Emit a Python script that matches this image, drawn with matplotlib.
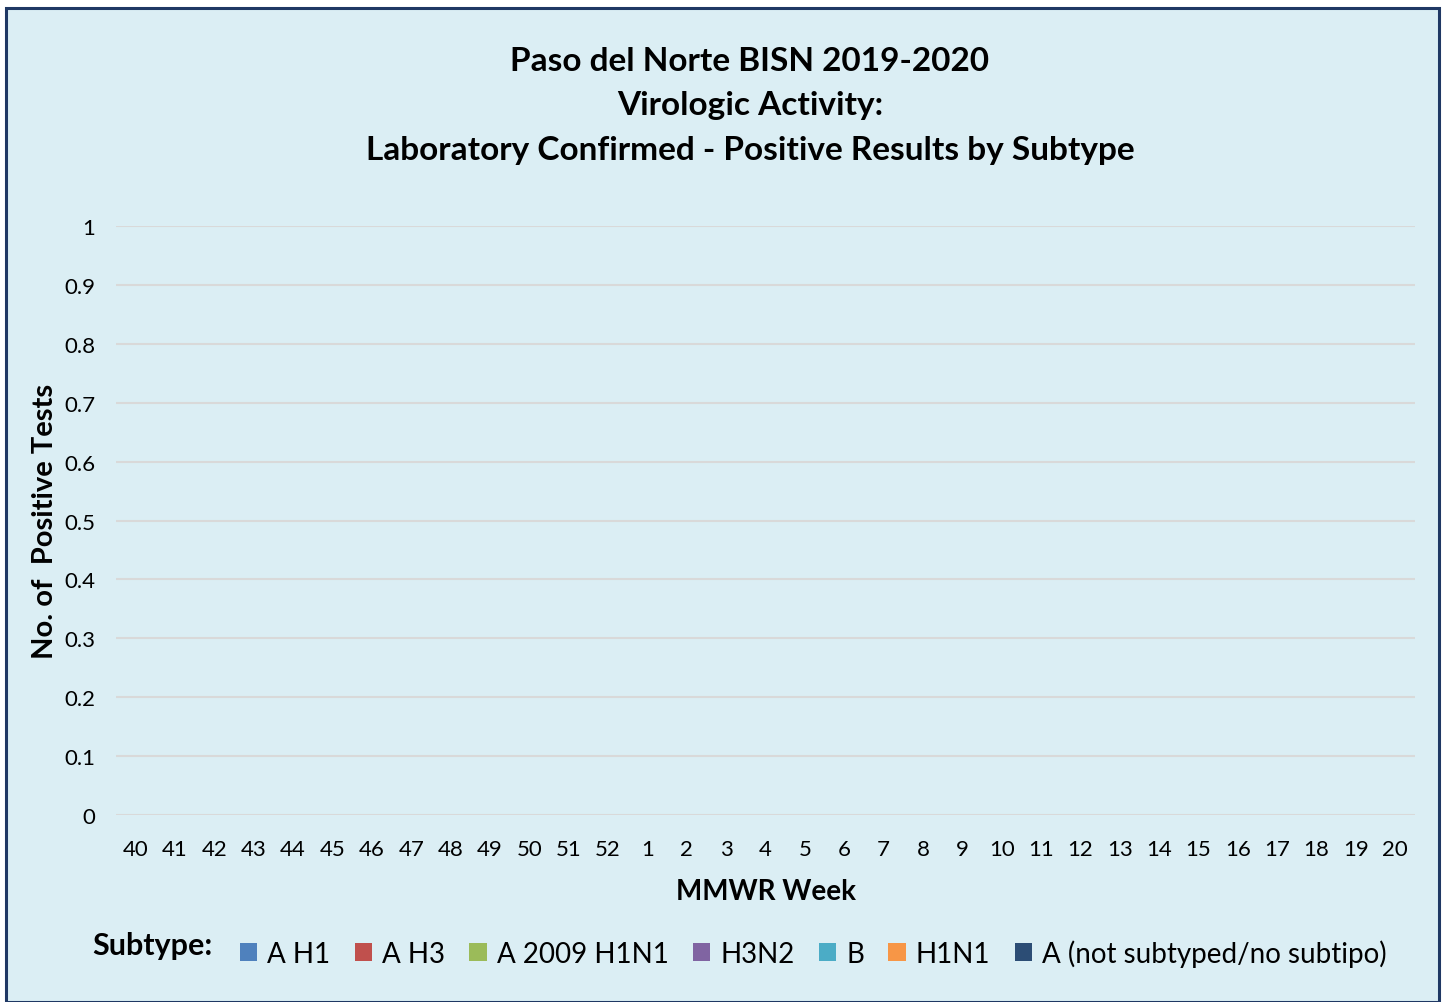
import numpy as np
import matplotlib.pyplot as plt
from matplotlib.patches import Rectangle, Patch

weeks = ['40', '41', '42', '43', '44', '45', '46', '47', '48', '49', '50', '51', '52',
         '1', '2', '3', '4', '5', '6', '7', '8', '9', '10', '11', '12', '13', '14',
         '15', '16', '17', '18', '19', '20']
subtypes = ['A H1', 'A H3', 'A 2009 H1N1', 'H3N2', 'B', 'H1N1', 'A (not subtyped/no subtipo)']
colors = ['#4F81BD', '#C0504D', '#9BBB59', '#8064A2', '#4BACC6', '#F79646', '#2C4D75']

# no positive results reported this season
a_h1 = [0] * 33
a_h3 = [0] * 33
a_2009_h1n1 = [0] * 33
h3n2 = [0] * 33
b = [0] * 33
h1n1 = [0] * 33
a_not_subtyped = [0] * 33
series = [a_h1, a_h3, a_2009_h1n1, h3n2, b, h1n1, a_not_subtyped]

plt.rcParams['font.family'] = ['Lato', 'DejaVu Sans']
bg = '#DBEEF4'

fig = plt.figure(figsize=(14.42, 10.03), dpi=100)
fig.patch.set_facecolor('white')
fig.patches.append(Rectangle((6 / 1442, 0), 1433 / 1442, 1 - 9 / 1003, transform=fig.transFigure,
                             facecolor=bg, edgecolor='#1F3864', linewidth=2.2, zorder=-5))

ax = fig.add_axes([116 / 1442, 1 - 816 / 1003, 1299 / 1442, (816 - 227) / 1003])
ax.set_facecolor(bg)
ax.set_zorder(2)

x = np.arange(len(weeks))
bottom = np.zeros(len(weeks))
for vals, name, c in zip(series, subtypes, colors):
    ax.bar(x, vals, bottom=bottom, width=0.6, color=c, label=name)
    bottom += np.array(vals)

ax.set_xlim(-0.5, len(weeks) - 0.5)
ax.set_ylim(0, 1)
ax.set_yticks(np.arange(0, 1.01, 0.1))
ax.set_yticklabels(['0', '0.1', '0.2', '0.3', '0.4', '0.5', '0.6', '0.7', '0.8', '0.9', '1'])
ax.set_xticks(x)
ax.set_xticklabels(weeks)
ax.tick_params(length=0, labelsize=16, colors='black')
ax.tick_params(axis='x', pad=17)
ax.tick_params(axis='y', pad=15)
ax.grid(axis='y', color='#D9D9D9', linewidth=1.5)
ax.set_axisbelow(True)
for s in ax.spines.values():
    s.set_visible(False)

ax.set_xlabel('MMWR Week', fontsize=20, fontweight='bold', labelpad=14)
ax.set_ylabel('No. of  Positive Tests', fontsize=21, fontweight='bold', labelpad=4)

fig.text(750 / 1442, 1 - 106 / 1003,
         'Paso del Norte BISN 2019-2020\nVirologic Activity:\nLaboratory Confirmed - Positive Results by Subtype',
         ha='center', va='center', fontsize=24, fontweight='bold', linespacing=1.66)

fig.text(92 / 1442, 1 - 946 / 1003, 'Subtype:', fontsize=22, fontweight='bold', va='center')
handles = [Patch(facecolor=c) for c in colors]
fig.legend(handles, subtypes, loc='center left', bbox_to_anchor=(226 / 1442, 1 - 954 / 1003),
           ncol=7, frameon=False, fontsize=20, handlelength=0.62, handleheight=0.62,
           handletextpad=0.36, columnspacing=0.88, borderpad=0)

fig.savefig('out.png', dpi=100, facecolor=fig.get_facecolor())
